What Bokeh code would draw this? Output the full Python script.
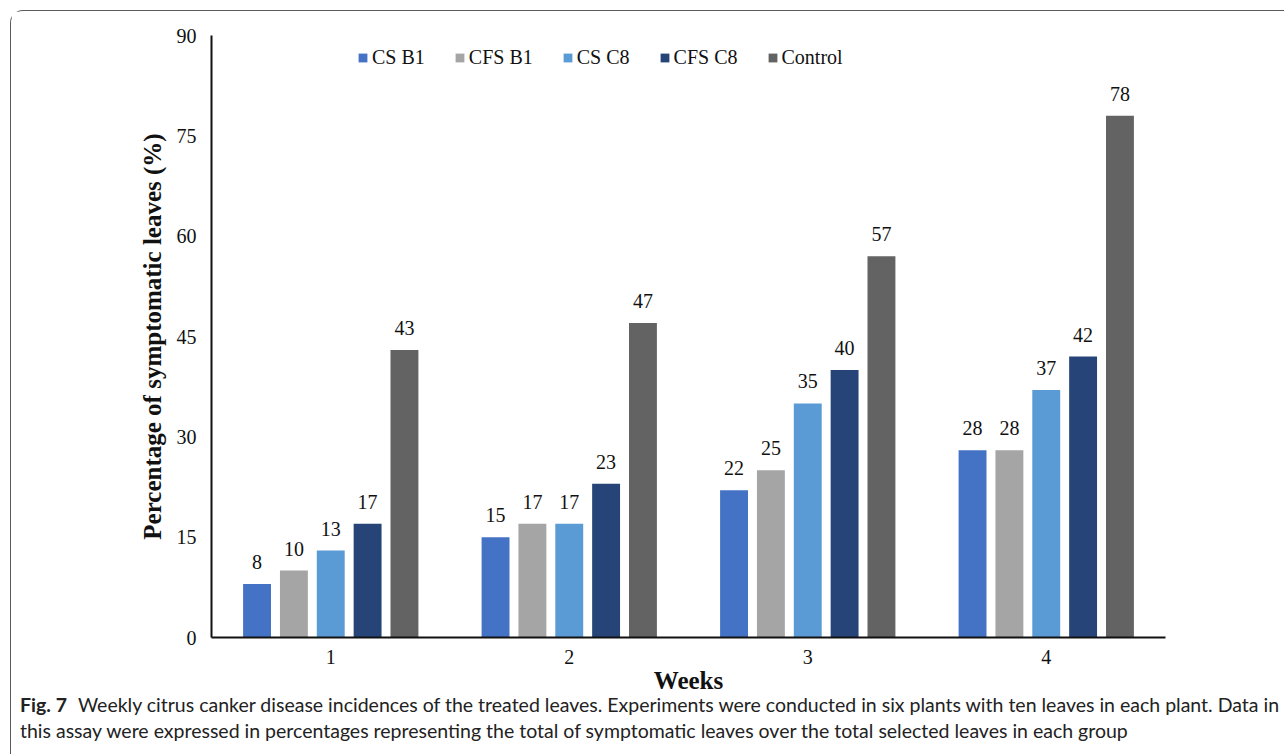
from bokeh.plotting import figure
from bokeh.layouts import column
from bokeh.models import (FactorRange, Range1d, FixedTicker, ColumnDataSource,
                          LabelSet, Legend, LegendItem, Label)
from bokeh.transform import dodge
from bokeh.embed import file_html
from bokeh.resources import INLINE

# Weekly disease incidence (%) per treatment group
weeks = ["1", "2", "3", "4"]
series = ["CS B1", "CFS B1", "CS C8", "CFS C8", "Control"]
cs_b1 = [8, 15, 22, 28]
cfs_b1 = [10, 17, 25, 28]
cs_c8 = [13, 17, 35, 37]
cfs_c8 = [17, 23, 40, 42]
control = [43, 47, 57, 78]
colors = ["#4472C4", "#A5A5A5", "#5B9BD5", "#264478", "#636363"]
y_ticks = [0, 15, 30, 45, 60, 75, 90]

caption_bold = "Fig. 7"
caption_line1 = ("Weekly citrus canker disease incidences of the treated leaves. "
                 "Experiments were conducted in six plants with ten leaves in each plant. Data in")
caption_line2 = ("this assay were expressed in percentages representing the total of "
                 "symptomatic leaves over the total selected leaves in each group")

SERIF = "Liberation Serif"
SANS = "Lato"
W = 1273

src = ColumnDataSource(dict(week=weeks, cs_b1=cs_b1, cfs_b1=cfs_b1, cs_c8=cs_c8,
                            cfs_c8=cfs_c8, control=control))
cols = ["cs_b1", "cfs_b1", "cs_c8", "cfs_c8", "control"]

p = figure(x_range=FactorRange(factors=weeks, range_padding=0),
           y_range=Range1d(0, 90),
           width=W, height=690,
           min_border_left=200, min_border_right=119,
           min_border_top=24, min_border_bottom=64,
           output_backend="svg", toolbar_location=None)
p.frame_align = False

step = 0.1545
width = 0.117
items = []
for i, (col, name, color) in enumerate(zip(cols, series, colors)):
    off = (i - 2) * step
    r = p.vbar(x=dodge("week", off, range=p.x_range), top=col, width=width,
               source=src, fill_color=color, line_color=None)
    items.append(LegendItem(label=name, renderers=[r]))
    labels = LabelSet(x=dodge("week", off, range=p.x_range), y=col, text=col,
                      source=src, text_align="center", text_baseline="alphabetic",
                      y_offset=15, text_font=SERIF, text_font_size="20px",
                      text_color="#111111")
    p.add_layout(labels)

legend = Legend(items=items, orientation="horizontal", location=(146, 568),
                glyph_width=11, glyph_height=11, label_standoff=4, spacing=29,
                padding=0, margin=0, border_line_color=None,
                background_fill_alpha=0, label_text_font=SERIF,
                label_text_font_size="20px", label_text_color="#111111")
p.add_layout(legend)

p.outline_line_color = None
p.xgrid.grid_line_color = None
p.ygrid.grid_line_color = None

p.yaxis.ticker = FixedTicker(ticks=y_ticks)
for ax in (p.xaxis[0], p.yaxis[0]):
    ax.axis_line_width = 2
    ax.axis_line_color = "#111111"
    ax.major_tick_line_color = None
    ax.minor_tick_line_color = None
    ax.major_label_text_font = SERIF
    ax.major_label_text_font_size = "20px"
    ax.major_label_text_color = "#111111"
    ax.axis_label_text_font = SERIF
    ax.axis_label_text_font_style = "bold"
    ax.axis_label_text_font_size = "25px"
    ax.axis_label_text_color = "#111111"
p.yaxis.major_label_standoff = 9
p.xaxis.major_label_standoff = 6
p.yaxis.axis_label = "Percentage of symptomatic leaves (%)"
p.xaxis.axis_label = "Weeks"
p.yaxis.axis_label_standoff = 8
p.xaxis.axis_label_standoff = 0

# Figure caption, drawn in a transparent pixel-scaled panel tucked under the chart
CAP_H = 66
cap = figure(width=W, height=CAP_H, x_range=Range1d(0, W), y_range=Range1d(0, CAP_H),
             min_border=0, output_backend="svg", toolbar_location=None)
cap.frame_align = False
cap.margin = (-13, 0, 0, 0)
cap.background_fill_alpha = 0
cap.border_fill_alpha = 0
cap.axis.visible = False
cap.grid.grid_line_color = None
cap.outline_line_color = None
cap_style = dict(text_font=SANS, text_color="#222222", text_baseline="alphabetic",
                 text_font_size="19.5px")
cap.add_layout(Label(x=8.5, y=50.5, text=caption_bold, text_font_style="bold", **cap_style))
cap.add_layout(Label(x=66.5, y=50.5, text=caption_line1, **cap_style))
cap.add_layout(Label(x=8.5, y=24.5, text=caption_line2, **cap_style))

layout = column(p, cap, spacing=0)
layout.margin = (10, 0, 0, 10)
layout.styles = {"border-left": "1.5px solid #5a5a5a", "border-top": "1.5px solid #5a5a5a",
                 "border-top-left-radius": "13px"}

open("out.html", "w").write(file_html(layout, INLINE))
